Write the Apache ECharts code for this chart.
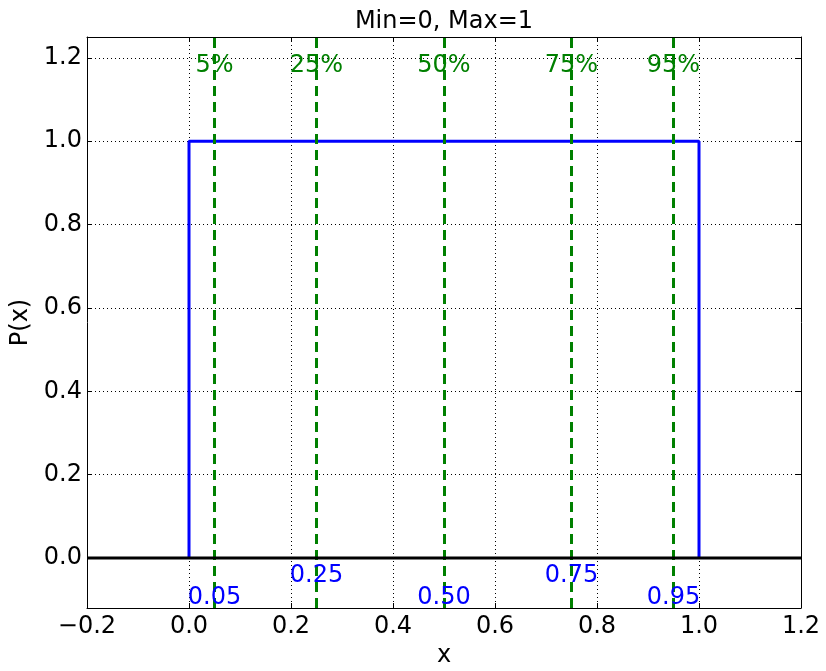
<!DOCTYPE html>
<html>
<head>
<meta charset="utf-8">
<script src="https://cdn.jsdelivr.net/npm/echarts@6/dist/echarts.min.js"></script>
<style>
html,body{margin:0;padding:0;background:#fff;}
#chart{width:826px;height:671px;}
</style>
</head>
<body>
<div id="chart"></div>
<script>
// ---- data ----
const chartTitle = 'Min=0, Max=1';
const pdfX = [0, 0, 1, 1];
const pdfY = [0, 1, 1, 0];
const quantiles = [0.05, 0.25, 0.5, 0.75, 0.95];
const percentLabels = ['5%', '25%', '50%', '75%', '95%'];
const valueLabels = ['0.05', '0.25', '0.50', '0.75', '0.95'];
const xTicks = [-0.2, 0, 0.2, 0.4, 0.6, 0.8, 1.0, 1.2];
const yTicks = [0, 0.2, 0.4, 0.6, 0.8, 1.0, 1.2];
const xRange = [-0.2, 1.2];
const yRange = [-0.12, 1.25];

// ---- chart ----
const FONT = 'DejaVu Sans';
const fmt = v => {
  if (Math.abs(v) < 1e-9) v = 0;
  return v.toFixed(1).replace('-', '\u2212');
};
const chart = echarts.init(document.getElementById('chart'));
const dotted = { color: '#000', width: 1, type: [1, 3] };
const noBorder = { textBorderWidth: 0, textBorderColor: 'transparent', textShadowBlur: 0, opacity: 1 };

const option = {
  backgroundColor: '#fff',
  animation: false,
  graphic: [{
    type: 'text', x: 444, y: 22, z: 10,
    style: { text: chartTitle, align: 'center', verticalAlign: 'middle', fontFamily: FONT, fontSize: 24, fill: '#000' }
  }],
  grid: { left: 87, right: 25, top: 37, bottom: 63, containLabel: false, outerBoundsMode: 'none' },
  xAxis: [{
    type: 'value', min: xRange[0], max: xRange[1], interval: 0.2,
    name: 'x', nameLocation: 'middle', nameGap: 35,
    nameTextStyle: { fontFamily: FONT, fontSize: 24, color: '#000' },
    axisLine: { show: true, onZero: false, lineStyle: { color: '#000', width: 1 } },
    axisTick: { show: true, inside: true, length: 5, lineStyle: { color: '#000' } },
    axisLabel: { formatter: fmt, fontFamily: FONT, fontSize: 24, color: '#000', margin: 7 },
    splitLine: { show: true, lineStyle: dotted }
  }, {
    type: 'value', position: 'top', min: xRange[0], max: xRange[1], interval: 0.2,
    axisLine: { show: true, onZero: false, lineStyle: { color: '#000', width: 1 } },
    axisTick: { show: true, inside: true, length: 5, lineStyle: { color: '#000' } },
    axisLabel: { show: false }, splitLine: { show: false }
  }],
  yAxis: [{
    type: 'value', min: yRange[0], max: yRange[1],
    name: 'P(x)', nameLocation: 'middle', nameGap: 46, nameRotate: 90,
    nameTextStyle: { fontFamily: FONT, fontSize: 24, color: '#000' },
    axisLine: { show: true, onZero: false, lineStyle: { color: '#000', width: 1 } },
    axisTick: { show: true, inside: true, length: 5, customValues: yTicks, lineStyle: { color: '#000' } },
    axisLabel: { customValues: yTicks, formatter: fmt, fontFamily: FONT, fontSize: 24, color: '#000', margin: 5 },
    splitLine: { show: false }
  }, {
    type: 'value', position: 'right', min: yRange[0], max: yRange[1],
    axisLine: { show: true, onZero: false, lineStyle: { color: '#000', width: 1 } },
    axisTick: { show: true, inside: true, length: 5, customValues: yTicks, lineStyle: { color: '#000' } },
    axisLabel: { show: false }, splitLine: { show: false }
  }],
  series: [
    {
      type: 'line', data: [], z: 1, silent: true,
      markLine: {
        silent: true, symbol: 'none', label: { show: false }, z: 1,
        lineStyle: dotted,
        data: yTicks.map(v => ({ yAxis: v }))
      }
    },
    {
      type: 'line', z: 2, silent: true, symbol: 'none',
      data: pdfX.map((x, i) => [x, pdfY[i]]),
      lineStyle: { color: '#0000ff', width: 3 }
    },
    {
      type: 'line', data: [], z: 3, silent: true,
      markLine: {
        silent: true, symbol: 'none', label: { show: false }, z: 3,
        lineStyle: { color: '#008000', width: 3, type: [10, 6] },
        data: quantiles.map(q => ({ xAxis: q }))
      }
    },
    {
      type: 'line', z: 4, silent: true, symbol: 'none',
      data: [[xRange[0], 0], [xRange[1], 0]],
      lineStyle: { color: '#000', width: 3 }
    },
    {
      type: 'scatter', z: 5, silent: true, symbolSize: 0,
      itemStyle: { opacity: 1, color: '#008000' },
      data: quantiles.map(q => [q, 1.18]),
      label: Object.assign({
        show: true, position: 'inside',
        formatter: p => percentLabels[p.dataIndex],
        fontFamily: FONT, fontSize: 24, color: '#008000'
      }, noBorder)
    },
    {
      type: 'scatter', z: 5, silent: true, symbolSize: 0,
      itemStyle: { opacity: 1, color: '#0000ff' },
      data: quantiles.map((q, i) => [q, i % 2 ? -0.043 : -0.096]),
      label: Object.assign({
        show: true, position: 'inside',
        formatter: p => valueLabels[p.dataIndex],
        fontFamily: FONT, fontSize: 24, color: '#0000ff'
      }, noBorder)
    }
  ]
};
chart.setOption(option);
</script>
</body>
</html>
